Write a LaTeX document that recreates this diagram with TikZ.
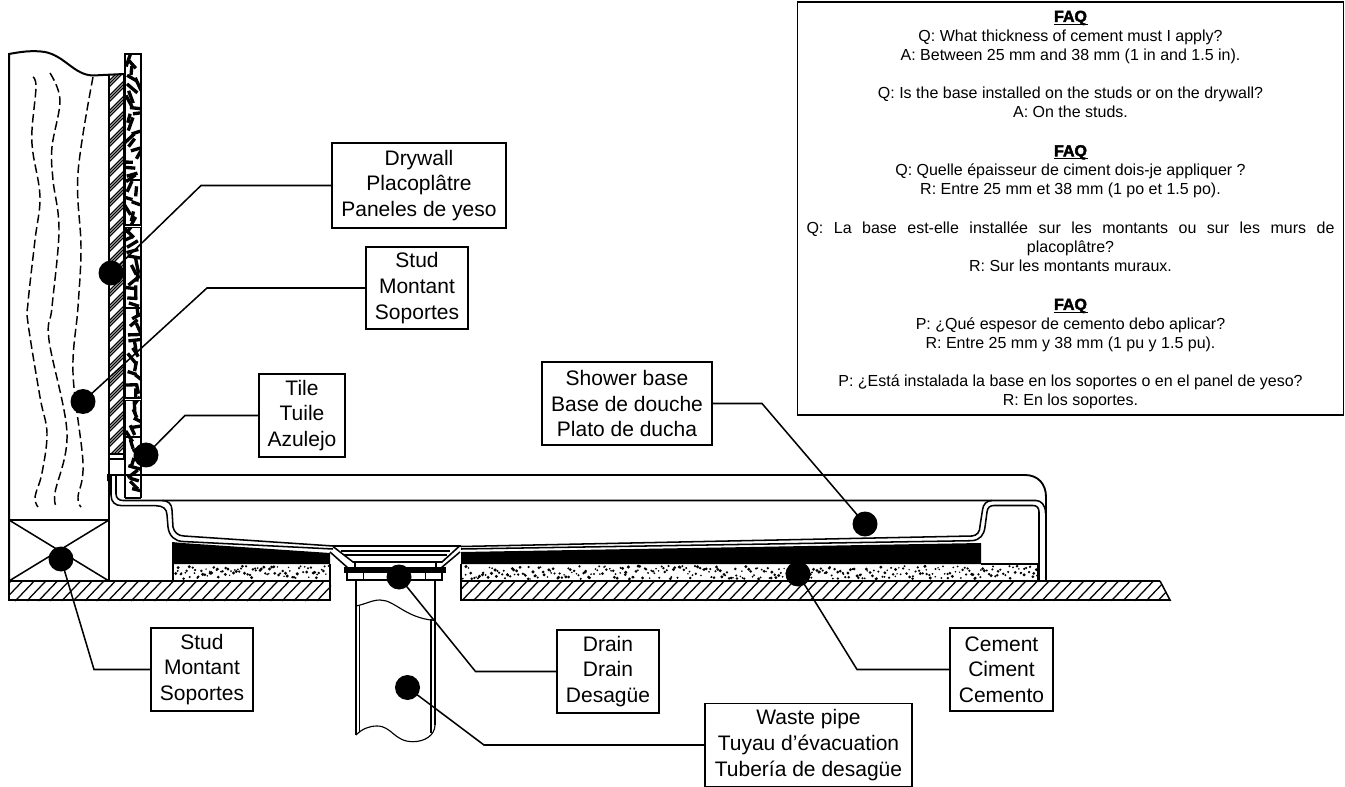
\documentclass[tikz,border=0pt]{standalone}
\usepackage{fontspec}
\setmainfont{Liberation Sans}
\newfontfamily\faqfont[UprightFont=* Bold,FakeBold=2.6]{Liberation Sans}
\newcommand\faqhead{\leavevmode\rlap{\rule[-2.3pt]{25.6pt}{1.1pt}}{\faqfont FAQ}}
\def\px{0.75pt}
\tikzset{
  lbl/.style={draw,line width=1.15pt,fill=white,align=center,inner sep=0pt,font=\fontsize{15.75pt}{19.2pt}\selectfont},
  dotmark/.style={circle,fill=black,minimum size=25*\px,inner sep=0pt},
  leader/.style={line width=1.15pt,line join=miter},
  heavy/.style={line width=1.5pt},
  med/.style={line width=1.15pt},
  fine/.style={line width=0.85pt},
  grain/.style={line width=1.1pt,dash pattern=on 6.5pt off 3pt},
  hatchln/.style={line width=0.95pt}
}
\begin{document}
\begin{tikzpicture}[x=0.75pt,y=-0.75pt,line cap=butt]
\useasboundingbox (0,0) rectangle (1345,787);
\fill[white] (0,0) rectangle (1345,787);
\pgfmathsetseed{4217}

% floor slabs
\begin{scope}
\clip (8,580) rectangle (331,601);
\foreach \h in {0,...,28}{\draw[hatchln] ({-8+11.6*\h},601) -- ({12+11.6*\h},580);}
\end{scope}
\draw[med] (9,581) -- (9,600) -- (330,600) -- (330,581);
\draw[heavy] (8,581) -- (330,581);
\begin{scope}
\clip (461,580) -- (1160,580) -- (1170.5,601) -- (461,601) -- cycle;
\foreach \h in {0,...,62}{\draw[hatchln] ({450+11.6*\h},601) -- ({470+11.6*\h},580);}
\end{scope}
\draw[med] (461,581) -- (461,600) -- (1170,600) -- (1160,581);
\draw[heavy] (461,581) -- (1160,581);

% cement and mortar
\fill (172,542) -- (182,543) -- (330,553) -- (330,564) -- (172,564) -- cycle;
\fill (461,552) -- (981,543) -- (981,564) -- (461,564) -- cycle;
\begin{scope}
\clip (173,564) rectangle (330,581);
\foreach \i in {0,...,90}{\pgfmathsetmacro\xa{174+1.7*\i+2*rnd}\pgfmathsetmacro\ya{566+13*rnd}\pgfmathsetmacro\ra{0.8+0.9*rnd}\fill (\xa,\ya) circle[radius=\ra];}
\end{scope}
\begin{scope}
\clip (461,564) rectangle (1038,581);
\foreach \i in {0,...,330}{\pgfmathsetmacro\xa{462+1.74*\i+2*rnd}\pgfmathsetmacro\ya{566+13*rnd}\pgfmathsetmacro\ra{0.8+0.9*rnd}\fill (\xa,\ya) circle[radius=\ra];}
\end{scope}
\draw[fine] (173,564) -- (173,581) (330,564) -- (330,581);
\draw[fine] (461,564) -- (461,581) (981,564) -- (1038,564) -- (1038,581);

% stud
\draw[heavy] (9,581) -- (9,54) .. controls (20,52) and (32,50) .. (45,52) .. controls (65,56) and (74,75) .. (93,75.5) -- (124,74);
\draw[heavy] (109,75) -- (109,581);
\draw[heavy] (9,520) -- (109,520);
\draw[med] (9,520) -- (109,581) (109,520) -- (9,581);
\draw[grain] plot[smooth,tension=0.6] coordinates {(33,77) (36,87) (32,130) (33,153) (40,197) (35,240) (28,303) (28,323) (40,397) (47,433) (42,473) (35,497) (38,507)};
\draw[grain] plot[smooth,tension=0.6] coordinates {(50,73) (60,100) (52,147) (53,180) (59,230) (52,307) (49,340) (67,433) (55,493) (57,507)};
\draw[grain] plot[smooth,tension=0.6] coordinates {(93,77) (78,173) (81,247) (78,307) (73,373) (83,463) (78,497) (81,507)};

% drywall
\begin{scope}
\clip (109,75) rectangle (124,454);
\foreach \h in {0,...,135}{
  \pgfmathtruncatemacro\m{mod(\h,5)}
  \ifnum\m<3
  \draw[line width=0.95pt] (105,{70+3*\h}) -- (128,{47+3*\h});
  \fi}
\end{scope}
\draw[med] (124,75) -- (124,459) -- (109,459);
\draw[med] (109,454) -- (124,454);

% tiles
\begin{scope}
\clip (125,54) rectangle (141,498);
\foreach \i in {0,...,72}{
  \pgfmathsetmacro\xa{127+12*rnd}
  \pgfmathsetmacro\ya{58+6*\i+3*rnd}
  \pgfmathsetmacro\an{180*rnd}
  \pgfmathsetmacro\ln{4.5+3*rnd}
  \draw[line width=2.5pt] ({\xa-\ln*cos(\an)},{\ya-\ln*sin(\an)}) -- ({\xa+\ln*cos(\an)},{\ya+\ln*sin(\an)});}
\end{scope}
\draw[line width=1.9pt] (125,498) -- (125,54) -- (141,54) -- (141,498);
\draw[heavy] (125,498) -- (141,498);
\foreach \yy in {180,308,437}{\draw[med] (125,\yy) -- (141,\yy);}
\foreach \yy in {226,399}{\fill[white] (125,{\yy-1}) rectangle (141,{\yy+1.5});\draw[fine] (125,{\yy-1}) -- (141,{\yy-1}) (125,{\yy+1.5}) -- (141,{\yy+1.5});}

% shower base
\draw[line width=1.4pt] (108,481) -- (108,475) -- (1025,475) .. controls (1038,475) and (1046,484) .. (1046,497) -- (1046,581);
\draw[med] (111,476) -- (111,495) .. controls (111,502) and (115,505.7) .. (122,505.7) -- (156,505.7)
  .. controls (163,505.7) and (167,509) .. (167,515) -- (168,527) .. controls (169,536) and (175,541.3) .. (183,541.5) -- (333,549);
\draw[med] (116,476) -- (116,494) .. controls (116,498) and (119,500.5) .. (123,500.5) -- (162,500.5)
  .. controls (168,500.5) and (172,504) .. (172,510) -- (173,527) .. controls (174,532) and (178,536) .. (184,536) -- (333,546);
\draw[med] (162,500.5) -- (1036,500.5) .. controls (1041,500.5) and (1045.5,505) .. (1045.5,513);
\draw[med] (461,546.5) -- (972,536) .. controls (977,535.5) and (980,532) .. (980,526) -- (982.5,510) .. controls (983,504) and (987,500.5) .. (992,500.5);
\draw[med] (461,549) -- (972,540.7) .. controls (980,540) and (984,535) .. (985,527) -- (987,512) .. controls (987.5,507.5) and (990,505.5) .. (994,505.5) -- (1033,505.5) .. controls (1037,505.5) and (1039,508) .. (1039,512) -- (1039,581);

% drain
\draw[med] (333,546) -- (461,546);
\draw[med] (333,546.5) -- (353,562) -- (442,562) -- (459,546.5);
\draw[med] (330,552) -- (348,568) (460,552) -- (441,568);
\draw[fine] (341,551) -- (450,551) (344,555) -- (447,555);
\draw[fine] (355,562) -- (355,567) (436,562) -- (436,567);
\fill (344,567) rectangle (446,572.5);
\draw[med] (347,572) -- (347,580) -- (442,580) -- (442,572);
\draw[med] (363.3,572) -- (363.3,580) (425.7,572) -- (425.7,580);

% pipe
\draw[med] (356,580) -- (356,735);
\draw[med] (435,580) -- (435,725);
\draw[fine] (359.5,606) -- (359.5,732) (431,619) -- (431,733);
\draw[fine] (356,606) .. controls (366,604) and (372,600) .. (380,600) .. controls (395,600) and (405,618) .. (435,620.5);
\draw[fine] (356,735) .. controls (362,729) and (369,726) .. (377,726) .. controls (392,726) and (394,741.7) .. (413,741.7) .. controls (425,741.7) and (435,735) .. (435,725);

% FAQ
\node[draw,line width=1.15pt,fill=white,minimum width=546*\px,minimum height=413*\px,inner sep=0pt] (faqbox) at (1070.5,208.5) {};
\node[inner sep=0pt,align=center,font=\fontsize{12pt}{14.4pt}\selectfont] (faq) at (1070.5,210)
{\faqhead\\
Q: What thickness of cement must I apply?\\
A: Between 25 mm and 38 mm (1 in and 1.5 in).\\[14.4pt]
Q: Is the base installed on the studs or on the drywall?\\
A: On the studs.\\[14.4pt]
\faqhead\\
Q: Quelle épaisseur de ciment dois-je appliquer ?\\
R: Entre 25 mm et 38 mm (1 po et 1.5 po).\\[14.4pt]
\makebox[396pt][s]{Q: La base est-elle installée sur les montants ou sur les murs de}\\
placoplâtre?\\
R: Sur les montants muraux.\\[14.4pt]
\faqhead\\
P: ¿Qué espesor de cemento debo aplicar?\\
R: Entre 25 mm y 38 mm (1 pu y 1.5 pu).\\[14.4pt]
P: ¿Está instalada la base en los soportes o en el panel de yeso?\\
R: En los soportes.};

% callout marks
\node[dotmark] (dDry) at (111,273) {};
\node[dotmark] (dStud) at (83,401.5) {};
\node[dotmark] (dTile) at (146,455) {};
\node[dotmark] (dBlock) at (61,559) {};
\node[dotmark] (dBase) at (865,524) {};
\node[dotmark] (dDrain) at (399,577) {};
\node[dotmark] (dCem) at (798,574) {};
\node[dotmark] (dPipe) at (407.5,687.5) {};

% labels
\node[lbl,minimum width=174*\px,minimum height=85*\px] (lDry) at (419,185.5) {Drywall\\Placoplâtre\\Paneles de yeso};
\node[lbl,minimum width=102*\px,minimum height=82*\px] (lStud) at (417,288) {Stud\\Montant\\Soportes};
\node[lbl,minimum width=86*\px,minimum height=83*\px] (lTile) at (302,415.5) {Tile\\Tuile\\Azulejo};
\node[lbl,minimum width=170*\px,minimum height=83*\px] (lBase) at (627,403.5) {Shower base\\Base de douche\\Plato de ducha};
\node[lbl,minimum width=102*\px,minimum height=83*\px] (lBlock) at (202,669.5) {Stud\\Montant\\Soportes};
\node[lbl,minimum width=102*\px,minimum height=83*\px] (lDrain) at (608,671.5) {Drain\\Drain\\Desagüe};
\node[lbl,minimum width=103*\px,minimum height=83*\px] (lCem) at (1001.5,669.5) {Cement\\Ciment\\Cemento};
\node[lbl,minimum width=207*\px,minimum height=83*\px] (lPipe) at (808.5,745) {Waste pipe\\Tuyau d’évacuation\\Tubería de desagüe};

% leaders
\coordinate (bDry) at (201,185.5);
\coordinate (bStud) at (207,288);
\coordinate (bTile) at (185,415.5);
\coordinate (bBase) at (762,403.5);
\coordinate (bBlock) at (94,669.5);
\coordinate (bDrain) at (475.5,671.5);
\coordinate (bCem) at (857,669.5);
\coordinate (bPipe) at (484,745);
\draw[leader] (lDry.west) -- (bDry) -- (dDry.center);
\draw[leader] (lStud.west) -- (bStud) -- (dStud.center);
\draw[leader] (lTile.west) -- (bTile) -- (dTile.center);
\draw[leader] (lBase.east) -- (bBase) -- (dBase.center);
\draw[leader] (lBlock.west) -- (bBlock) -- (dBlock.center);
\draw[leader] (lDrain.west) -- (bDrain) -- (dDrain.center);
\draw[leader] (lCem.west) -- (bCem) -- (dCem.center);
\draw[leader] (lPipe.west) -- (bPipe) -- (dPipe.center);
\end{tikzpicture}
\end{document}
